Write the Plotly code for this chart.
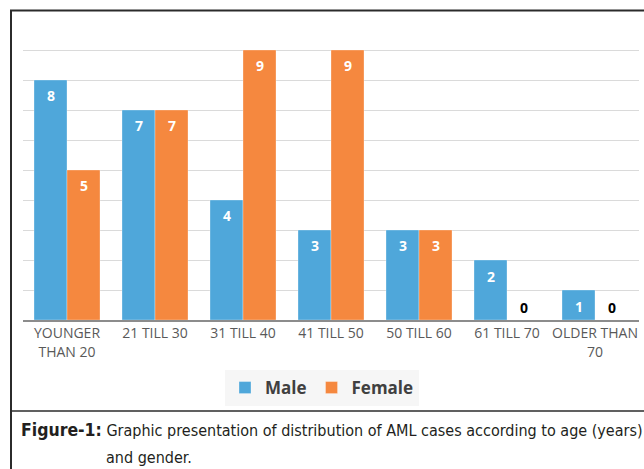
import plotly.graph_objects as go

categories = ["YOUNGER<br>THAN 20", "21 TILL 30", "31 TILL 40", "41 TILL 50",
              "50 TILL 60", "61 TILL 70", "OLDER THAN<br>70"]
male = [8, 7, 4, 3, 3, 2, 1]
female = [5, 7, 9, 9, 3, 0, 0]
series_names = ["Male", "Female"]
caption_bold = "Figure-1:"
caption_rest = "Graphic presentation of distribution of AML cases according to age (years)"
caption_line2 = "and gender."

W, H = 644, 469
BLUE = "#4FA7DA"
ORANGE = "#F5883F"

def px_x(p):
    return p / W

def px_y(p):
    return 1 - p / H

fig = go.Figure()
x_idx = list(range(len(categories)))
fig.add_trace(go.Bar(x=x_idx, y=male, name=series_names[0], marker_color=BLUE,
                     marker_line=dict(color="rgba(255,255,255,0.6)", width=0.5)))
fig.add_trace(go.Bar(x=x_idx, y=female, name=series_names[1], marker_color=ORANGE,
                     marker_line=dict(color="rgba(255,255,255,0.6)", width=0.5)))

annotations = []
half = 0.75 / 4
for vals, off in ((male, -half), (female, half)):
    for i, v in enumerate(vals):
        if v > 0:
            annotations.append(dict(x=i + off, y=v, xref="x", yref="y", text=f"<b>{v}</b>",
                                    showarrow=False, yshift=-16,
                                    font=dict(family="Open Sans", size=14, color="white")))
        else:
            annotations.append(dict(x=i + off, y=v, xref="x", yref="y", text=f"<b>{v}</b>",
                                    showarrow=False, yshift=13,
                                    font=dict(family="Open Sans", size=14, color="black")))

cap_font = dict(family="DejaVu Sans Condensed", size=16, color="#231F20")
annotations.append(dict(x=px_x(19), y=px_y(430), xref="paper", yref="paper", xanchor="left",
                        yanchor="middle", showarrow=False,
                        text=f"<span style='font-size:17.5px'><b>{caption_bold}</b></span> {caption_rest}",
                        font=cap_font))
annotations.append(dict(x=px_x(104), y=px_y(457), xref="paper", yref="paper", xanchor="left",
                        yanchor="middle", showarrow=False, text=caption_line2, font=cap_font))

shapes = [
    dict(type="line", xref="paper", yref="paper", x0=px_x(11), x1=px_x(11), y0=px_y(10), y1=px_y(469),
         line=dict(color="#2b2b2b", width=2)),
    dict(type="line", xref="paper", yref="paper", x0=px_x(10), x1=px_x(644), y0=px_y(10.5), y1=px_y(10.5),
         line=dict(color="#2b2b2b", width=2)),
    dict(type="line", xref="paper", yref="paper", x0=px_x(10), x1=px_x(644), y0=px_y(411), y1=px_y(411),
         line=dict(color="#2b2b2b", width=1.5)),
]

fig.update_layout(
    width=W, height=H,
    margin=dict(l=0, r=0, t=0, b=0),
    paper_bgcolor="white", plot_bgcolor="white",
    barmode="group", bargap=0.25, bargroupgap=0,
    showlegend=True,
    legend=dict(orientation="h", x=0.5, xanchor="center", y=px_y(388), yanchor="middle",
                bgcolor="#F6F6F6", font=dict(family="Open Sans", size=17, color="#404040", weight="bold"),
                itemwidth=30, traceorder="normal"),
    annotations=annotations,
    shapes=shapes,
    xaxis=dict(domain=[px_x(23), px_x(639)], tickmode="array", tickvals=x_idx, ticktext=categories,
               range=[-0.5, len(categories) - 0.5],
               showline=True, linecolor="#8C8C8C", linewidth=1.5, ticks="",
               tickfont=dict(family="Open Sans", size=14, color="#595959")),
    yaxis=dict(domain=[px_y(320), px_y(20)], range=[0, 10], dtick=1, showticklabels=False,
               showgrid=True, gridcolor="#DADADA", gridwidth=1, zeroline=False, ticks=""),
)

fig.write_html("out.html", config={"displayModeBar": False, "staticPlot": True},
               post_script="document.body.style.margin='0';document.body.style.overflow='hidden';")
